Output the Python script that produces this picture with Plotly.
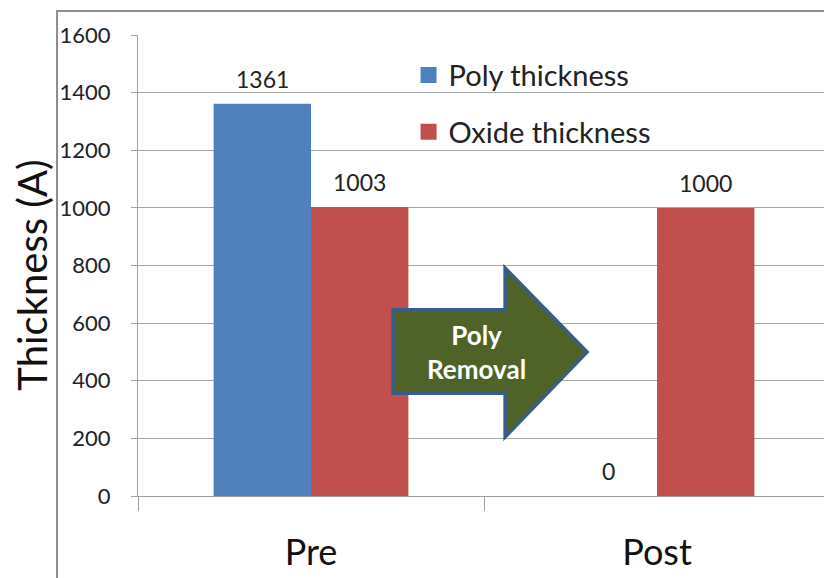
import plotly.graph_objects as go

categories = ["Pre", "Post"]
poly_thickness = [1361, 0]
oxide_thickness = [1003, 1000]
series_names = ["Poly thickness", "Oxide thickness"]
series_colors = ["#4F81BD", "#C0504D"]
y_ticks = [0, 200, 400, 600, 800, 1000, 1200, 1400, 1600]
y_title = "Thickness (A)"

FONT = "Lato, Carlito, Calibri, sans-serif"
BARGAP = 0.437

fig = go.Figure()
series_values = [poly_thickness, oxide_thickness]
for name, vals, col in zip(series_names, series_values, series_colors):
    fig.add_trace(go.Bar(x=categories, y=vals, name=name, marker_color=col,
                         marker_line_width=0, showlegend=False))
for i, (name, col) in enumerate(zip(series_names, series_colors)):
    fig.add_trace(go.Scatter(x=[None], y=[None], mode="markers", name=name,
                             legendgroup=f"g{i}",
                             marker=dict(symbol="square", size=16, color=col)))

# data labels above bars
bw = (1 - BARGAP) / 2
for s, vals in enumerate(series_values):
    off = -bw / 2 if s == 0 else bw / 2
    for i, v in enumerate(vals):
        fig.add_annotation(x=i + off, y=v, text=str(v), showarrow=False,
                           yshift=25, yanchor="middle",
                           font=dict(family=FONT, size=23, color="#222"))

# arrow shape
fig.add_shape(type="path", xref="x", yref="y",
              path="M 0.237 646 L 0.561 646 L 0.561 791 L 0.798 500 L 0.561 205 L 0.561 357 L 0.237 357 Z",
              fillcolor="#4F6228", line=dict(color="#385D8A", width=3.5), layer="above")
fig.add_annotation(x=0.479, y=500, xref="x", yref="y", text="<b>Poly<br>Removal</b>",
                   showarrow=False, font=dict(family=FONT, size=26, color="white"))

# y-axis title
fig.add_annotation(x=-0.1525, y=0.479, xref="paper", yref="paper", text=y_title,
                   textangle=-90, showarrow=False, xanchor="center", yanchor="middle",
                   font=dict(family=FONT, size=40, color="#111"))

# outer frame
fig.add_shape(type="path", xref="paper", yref="paper",
              path="M -0.117 -0.3 L -0.117 1.0521 L 1.1 1.0521",
              line=dict(color="#8C8C8C", width=2), layer="above")

fig.update_layout(
    width=832, height=578,
    margin=dict(l=130, r=10, t=27, b=90),
    paper_bgcolor="white", plot_bgcolor="white",
    barmode="group", bargap=BARGAP, bargroupgap=0,
    font=dict(family=FONT, color="#222"),
    legend=dict(x=0.391, y=0.968, xanchor="left", yanchor="top",
                bgcolor="rgba(0,0,0,0)", font=dict(family=FONT, size=29, color="#222"),
                tracegroupgap=16, itemsizing="trace"),
    xaxis=dict(type="category", range=[-0.5, 1.5], showline=True, linecolor="#A0A0A0",
               linewidth=1.3, ticks="outside", tickson="boundaries", ticklen=14,
               tickcolor="#A0A0A0", tickwidth=1.3, showgrid=False, automargin=False,
               tickfont=dict(family=FONT, size=36, color="#111"), ticklabelstandoff=25),
    yaxis=dict(range=[0, 1600], tickvals=y_ticks, showline=True, linecolor="#A0A0A0",
               linewidth=1.3, ticks="outside", ticklen=6, tickcolor="#A0A0A0",
               tickwidth=1.3, showgrid=True, gridcolor="#A6A6A6", gridwidth=1.3,
               zeroline=False, tickfont=dict(family=FONT, size=22, color="#222"),
               ticklabelstandoff=16, automargin=False),
)

fig.write_html("out.html")
